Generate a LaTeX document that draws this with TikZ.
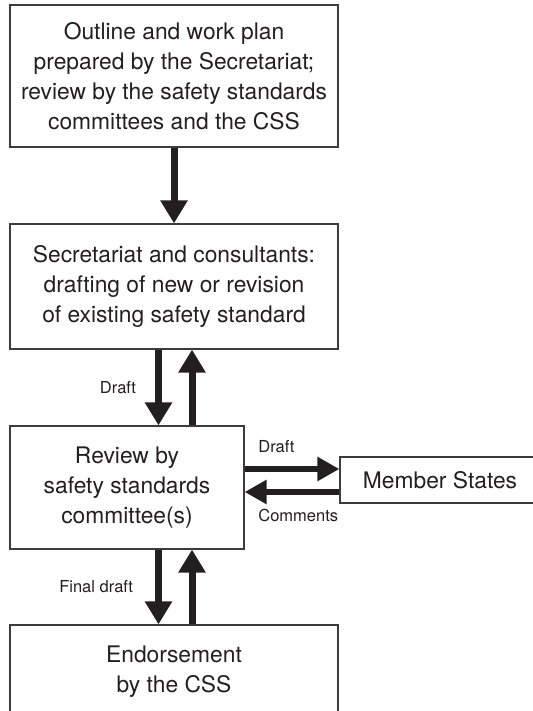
\documentclass[tikz,border=0pt]{standalone}
\usepackage{fontspec}
\setmainfont{TeX Gyre Heros}
\usetikzlibrary{arrows.meta}
\definecolor{chartink}{HTML}{231F20}
\definecolor{chartframe}{HTML}{3C3C3C}

\tikzset{
  stagebox/.style={draw=chartframe, line width=1.2pt, inner sep=0pt, align=center,
    text=chartink, font=\fontsize{22.8}{30}\selectfont},
  flow/.style={chartink, line width=7pt, -{Triangle[length=23pt,width=26pt]}},
  sideflow/.style={chartink, line width=5.5pt, -{Triangle[length=22pt,width=23pt]}},
  flowlabel/.style={text=chartink, inner sep=0pt, font=\fontsize{16.5}{19}\selectfont},
}

\begin{document}
\begin{tikzpicture}[x=1pt, y=1pt]

  \useasboundingbox (0,0) rectangle (532,711);

  % stages
  \node[stagebox, minimum width=328pt, minimum height=142pt] (outline) at (174,635)
    {Outline and work plan\\ prepared by the Secretariat;\\ review by the safety standards\\ committees and the CSS};
  \node[stagebox, minimum width=328pt, minimum height=125pt] (drafting) at (174,424.5)
    {Secretariat and consultants:\\ drafting of new or revision\\ of existing safety standard};
  \node[stagebox, minimum width=234pt, minimum height=123pt] (review) at (127,223.5)
    {Review by\\ safety standards\\ committee(s)};
  \node[stagebox, minimum width=200pt, minimum height=46pt] (members) at (440,231) {Member States};
  \node[stagebox, minimum width=328pt, minimum height=94pt] (endorse) at (174,39)
    {Endorsement\\ by the CSS};

  % arrow ends
  \coordinate (dn1) at ([xshift=-15.5pt]drafting.south);
  \coordinate (up1) at ([xshift=18pt]drafting.south);
  \coordinate (dn2) at ([xshift=-15.5pt]endorse.north);
  \coordinate (up2) at ([xshift=18pt]endorse.north);
  \coordinate (out1) at ([yshift=18.5pt]review.east);
  \coordinate (in1) at ([yshift=-4.5pt]review.east);

  \draw[flow] (outline) -- (drafting);

  \draw[flow] (dn1) -- node[flowlabel, midway, left=19pt] {Draft} (dn1 |- review.north);
  \draw[flow] (up1 |- review.north) -- (up1);

  \draw[flow] (dn2 |- review.south) -- node[flowlabel, midway, left=22pt] {Final draft} (dn2);
  \draw[flow] (up2) -- (up2 |- review.south);

  \draw[sideflow] (out1) -- node[flowlabel, pos=0, anchor=south west, xshift=11pt, yshift=13pt] {Draft} (out1 -| members.west);
  \draw[sideflow] (in1 -| members.west) -- (in1)
    node[flowlabel, anchor=north west, xshift=11pt, yshift=-14pt] {Comments};

\end{tikzpicture}
\end{document}
